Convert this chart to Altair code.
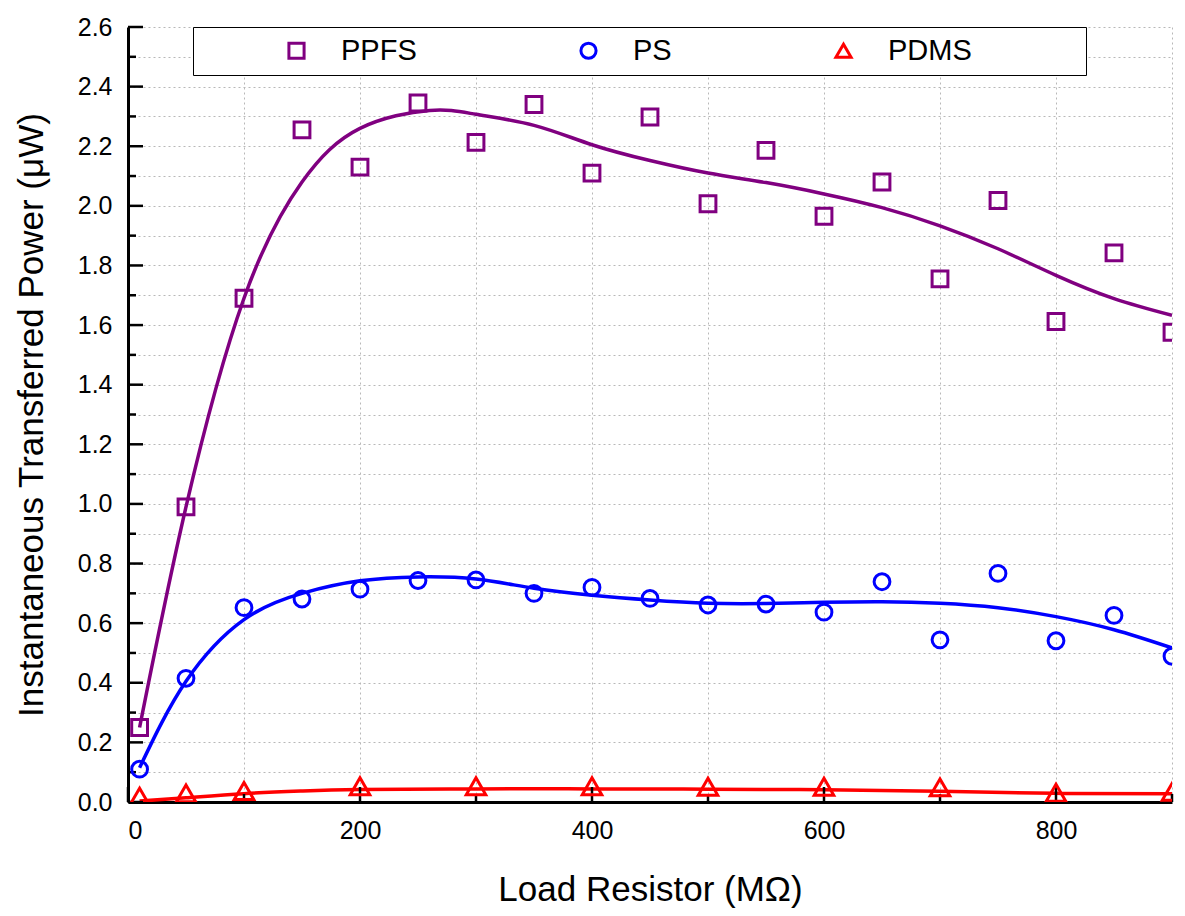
import altair as alt
import pandas as pd

# ---- data ----
series_names = ["PPFS", "PS", "PDMS"]
series_colors = ["#800080", "#0000ff", "#ff0000"]
series_shapes = ["square", "circle", "triangle-up"]

x_pts = [10, 50, 100, 150, 200, 250, 300, 350, 400, 450, 500, 550, 600, 650, 700, 750, 800, 850, 900]
ppfs_pts = [0.25, 0.99, 1.69, 2.255, 2.13, 2.345, 2.213, 2.34, 2.11, 2.298, 2.007, 2.186, 1.965, 2.08,
            1.755, 2.018, 1.612, 1.842, 1.576]
ps_pts = [0.11, 0.415, 0.652, 0.681, 0.714, 0.743, 0.745, 0.70, 0.72, 0.683, 0.661, 0.664, 0.637, 0.739,
          0.544, 0.767, 0.541, 0.626, 0.489]
pdms_x = [10, 50, 100, 200, 300, 400, 500, 600, 700, 800, 900]
pdms_pts = [0.018, 0.029, 0.037, 0.053, 0.053, 0.053, 0.051, 0.051, 0.049, 0.031, 0.034]

# fitted curves
ppfs_fit_x = [10, 50, 100, 150, 200, 260, 300, 350, 400, 450, 500, 550, 600, 650,
              700, 750, 800, 850, 900]
ppfs_fit_y = [0.25, 0.99, 1.69, 2.08, 2.26, 2.32, 2.307, 2.27, 2.205, 2.152,
              2.11, 2.078, 2.04, 1.994, 1.933, 1.856, 1.767, 1.689, 1.633]
ps_fit_x = [10, 50, 100, 150, 200, 250, 300, 350, 400, 450, 500, 550, 600, 650, 700, 750, 800,
            850, 900]
ps_fit_y = [0.115, 0.405, 0.612, 0.70, 0.742, 0.755, 0.748, 0.717, 0.694, 0.678, 0.667, 0.666,
            0.67, 0.672, 0.667, 0.652, 0.622, 0.578, 0.517]
pdms_fit_x = [10, 50, 100, 150, 200, 300, 400, 500, 600, 700, 800, 900]
pdms_fit_y = [0.003, 0.014, 0.028, 0.037, 0.042, 0.044, 0.044, 0.043, 0.041, 0.036, 0.029, 0.028]

# axis ticks
x_major_ticks = [0, 200, 400, 600, 800]
x_minor_ticks = [100, 300, 500, 700, 900]
y_major_ticks = [0.0, 0.2, 0.4, 0.6, 0.8, 1.0, 1.2, 1.4, 1.6, 1.8, 2.0, 2.2, 2.4, 2.6]
y_minor_ticks = [0.1, 0.3, 0.5, 0.7, 0.9, 1.1, 1.3, 1.5, 1.7, 1.9, 2.1, 2.3, 2.5]
x_grid_values = [0, 100, 200, 300, 400, 500, 600, 700, 800, 900]
y_grid_values = [round(i * 0.1, 1) for i in range(27)]

# ---- tables ----
pts = pd.concat([
    pd.DataFrame({"x": x_pts, "y": ppfs_pts, "series": "PPFS", "msize": "normal"}),
    pd.DataFrame({"x": x_pts, "y": ps_pts, "series": "PS", "msize": "normal"}),
    pd.DataFrame({"x": pdms_x, "y": pdms_pts, "series": "PDMS", "msize": "large"}),
], ignore_index=True)
fit_tables = [
    pd.DataFrame({"x": ppfs_fit_x, "y": ppfs_fit_y}),
    pd.DataFrame({"x": ps_fit_x, "y": ps_fit_y}),
    pd.DataFrame({"x": pdms_fit_x, "y": pdms_fit_y}),
]

FONT = "Liberation Sans"

xscale = alt.Scale(domain=[0, 900], nice=False, zero=False)
yscale = alt.Scale(domain=[0, 2.6], nice=False)

xaxis = alt.Axis(
    values=x_grid_values,
    labelExpr="datum.value % 200 == 0 ? datum.label : ''",
    grid=True, gridDash=[2, 3], gridColor="#b8b8b8", gridWidth=1,
    ticks=False, tickSize=0,
    domainColor="black", domainWidth=3,
    labelFont=FONT, labelFontSize=25, labelColor="black", labelPadding=16,
    title="Load Resistor (MΩ)", titleFont=FONT, titleFontSize=35, titleFontWeight="normal",
    titleColor="black", titlePadding=29,
)
yaxis = alt.Axis(
    values=y_grid_values,
    labelExpr="round(datum.value * 10) % 2 == 0 ? format(datum.value, '.1f') : ''",
    grid=True, gridDash=[2, 3], gridColor="#b8b8b8", gridWidth=1,
    ticks=False, tickSize=0,
    domainColor="black", domainWidth=3,
    labelFont=FONT, labelFontSize=25, labelColor="black", labelPadding=16,
    title="Instantaneous Transferred Power (μW)", titleFont=FONT, titleFontSize=35,
    titleFontWeight="normal", titleColor="black", titlePadding=28,
)

X = alt.X("x:Q", scale=xscale, axis=xaxis)
Y = alt.Y("y:Q", scale=yscale, axis=yaxis)

line_layers = [
    alt.Chart(tbl).mark_line(strokeWidth=3.5, clip=True, interpolate="natural", color=col).encode(x=X, y=Y)
    for tbl, col in zip(fit_tables, series_colors)
]

pad_label = "PDMS" + "\u00a0" * 13 + "\u200b"

points = alt.Chart(pts).mark_point(filled=False, strokeWidth=3, clip=True, opacity=1).encode(
    x=X, y=Y,
    color=alt.Color(
        "series:N",
        scale=alt.Scale(domain=series_names, range=series_colors),
        legend=alt.Legend(
            orient="none", legendX=65, legendY=0, direction="horizontal", title=None,
            labelFont=FONT, labelFontSize=29, labelColor="black", labelLimit=400,
            labelExpr="datum.label == 'PDMS' ? '" + pad_label + "' : datum.label",
            symbolSize=230, symbolStrokeWidth=3, symbolOffset=80, labelOffset=30,
            columnPadding=77, padding=9,
            strokeColor="black", fillColor="white",
        ),
    ),
    shape=alt.Shape("series:N", scale=alt.Scale(domain=series_names, range=series_shapes)),
    size=alt.Size("msize:N", scale=alt.Scale(domain=["normal", "large"], range=[250, 380]), legend=None),
)

# inward-pointing axis ticks
ymaj = alt.Chart(pd.DataFrame({"y": y_major_ticks})).mark_rule(color="black", strokeWidth=2.5).encode(
    y=Y, x=alt.value(0), x2=alt.value(15))
ymin = alt.Chart(pd.DataFrame({"y": y_minor_ticks})).mark_rule(color="black", strokeWidth=2.5).encode(
    y=Y, x=alt.value(0), x2=alt.value(8))
xmaj = alt.Chart(pd.DataFrame({"x": x_major_ticks})).mark_rule(color="black", strokeWidth=2.5).encode(
    x=X, y=alt.value(775), y2=alt.value(760))
xmin = alt.Chart(pd.DataFrame({"x": x_minor_ticks})).mark_rule(color="black", strokeWidth=2.5).encode(
    x=X, y=alt.value(775), y2=alt.value(767))

chart = alt.layer(*line_layers, ymaj, ymin, xmaj, xmin, points).properties(
    width=1044, height=775,
    autosize=alt.AutoSizeParams(type="none"),
    padding={"left": 120, "top": 19, "right": 5, "bottom": 112},
    background="white",
).configure_view(stroke=None)

chart.save("out.html", embed_options={"renderer": "svg", "actions": False})
